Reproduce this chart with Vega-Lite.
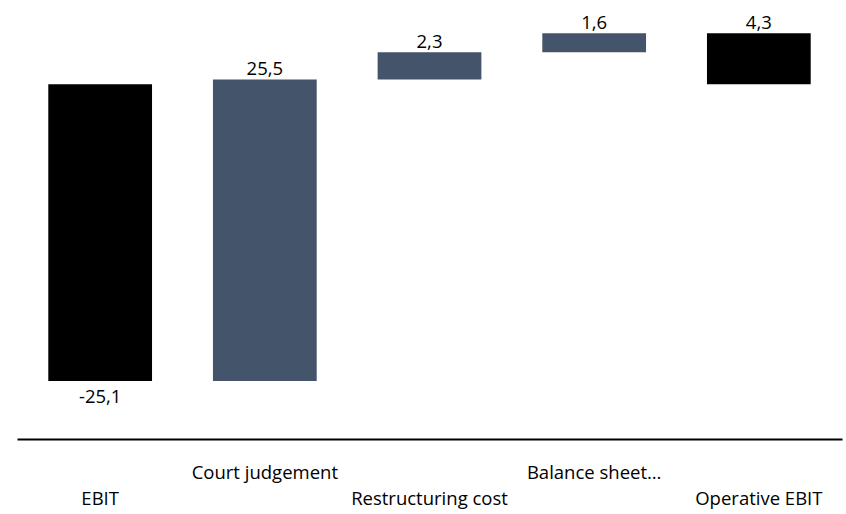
{
  "$schema": "https://vega.github.io/schema/vega-lite/v6.json",
  "autosize": {"type": "none"},
  "padding": {"left": 17, "top": 25, "right": 4, "bottom": 75},
  "width": 825,
  "height": 414,
  "background": "white",
  "config": {
    "view": {"stroke": null},
    "locale": {"number": {"decimal": ",", "thousands": " ", "grouping": [3], "currency": ["", ""], "minus": "-"}},
    "font": "Open Sans"
  },
  "data": {
    "values": [
      {"category": "EBIT", "start": 0, "end": -25.1, "value": -25.1, "kind": "total"},
      {"category": "Court judgement", "start": -25.1, "end": 0.4, "value": 25.5, "kind": "delta"},
      {"category": "Restructuring cost", "start": 0.4, "end": 2.7, "value": 2.3, "kind": "delta"},
      {"category": "Balance sheet…", "start": 2.7, "end": 4.3, "value": 1.6, "kind": "delta"},
      {"category": "Operative EBIT", "start": 0, "end": 4.3, "value": 4.3, "kind": "total"}
    ]
  },
  "encoding": {
    "x": {
      "field": "category",
      "type": "nominal",
      "sort": null,
      "scale": {"paddingInner": 0.37, "paddingOuter": 0.19},
      "axis": {
        "title": null,
        "orient": "bottom",
        "domainColor": "#000000",
        "domainWidth": 2,
        "ticks": false,
        "tickSize": 0,
        "labelAngle": 0,
        "labelFont": "Open Sans",
        "labelFontSize": 18.5,
        "labelColor": "#000000",
        "labelBaseline": "middle",
        "labelOverlap": false,
        "labelLimit": 0,
        "labelPadding": {"condition": {"test": "indexof(['Court judgement','Balance sheet…'], datum.value) >= 0", "value": 33}, "value": 59}
      }
    }
  },
  "layer": [
    {
      "mark": {"type": "bar"},
      "encoding": {
        "y": {"field": "start", "type": "quantitative", "scale": {"domain": [-30, 5], "nice": false, "zero": false}, "axis": null},
        "y2": {"field": "end"},
        "color": {"field": "kind", "type": "nominal", "scale": {"domain": ["total", "delta"], "range": ["#000000", "#44546A"]}, "legend": null}
      }
    },
    {
      "transform": [{"filter": "datum.value > 0"}],
      "mark": {"type": "text", "baseline": "middle", "dy": -10, "fontSize": 18.5, "font": "Open Sans", "color": "#000000"},
      "encoding": {
        "y": {"field": "end", "type": "quantitative"},
        "text": {"field": "value", "type": "quantitative", "format": ".1f"}
      }
    },
    {
      "transform": [{"filter": "datum.value < 0"}],
      "mark": {"type": "text", "baseline": "middle", "dy": 16, "fontSize": 18.5, "font": "Open Sans", "color": "#000000"},
      "encoding": {
        "y": {"field": "end", "type": "quantitative"},
        "text": {"field": "value", "type": "quantitative", "format": ".1f"}
      }
    }
  ]
}
